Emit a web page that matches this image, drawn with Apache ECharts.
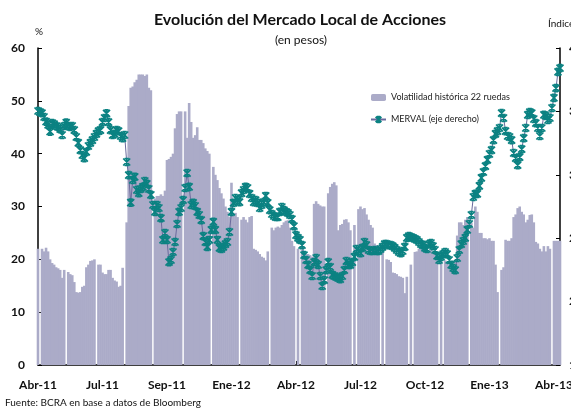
<!DOCTYPE html>
<html>
<head>
<meta charset="utf-8">
<script src="https://cdn.jsdelivr.net/npm/echarts@6/dist/echarts.min.js"></script>
<style>
html, body { margin: 0; padding: 0; background: #fff; }
#chart { width: 571px; height: 412px; }
</style>
</head>
<body>
<div id="chart"></div>
<script>
// etiquetas del eje x, una cada 32 ruedas
const tickLabels = ['Abr-11', 'Jul-11', 'Sep-11', 'Ene-12', 'Abr-12', 'Jul-12', 'Oct-12', 'Ene-13', 'Abr-13'];
const PASO = 32;

// volatilidad historica 22 ruedas (%), null = dia sin dato
const volatilidad = [
    22, null, 22, 21.5, 22.2, 21.5, 20, 19.3, 19, 18.5, 18.3, 18, 16.5, 18, null, 17.6,
    17.2, 17, 15.7, 13.8, 13.7, 13.8, 14.8, 15, 18.5, 19, 19.7, 19.8, 20, null, 19, 19,
    17.5, 17.2, 17.2, 18, 18, 16.5, 16, 15.8, 14.8, 15, 18.4, null, 27, 49, 52.5, 52.7,
    53.5, 54, 55, 55, 55, 54.7, 55, 52.5, 52, null, 31.5, 32, 32, 32.3, 32, 33,
    38.8, 39, 39.4, 40, 44.8, 47.5, 48, 48, null, 48, 43, 49.6, 46, 43, 43.5, 45,
    42.6, 42.6, 42, 41, 40.5, 40, null, 37.5, 36, 35, 33.5, 32.5, 31.5, 30, 29, 28,
    34.5, 28.5, 28.8, 28, null, 27.5, 28, 27.5, 27, 28, 28.2, 22, 21.8, 21.5, 21, 20.5,
    20.3, 19.8, 21.5, null, 26, 25.5, 26, 26.2, 26, 26.5, 27, 27.3, 27.4, 26, 23.5, 22.5,
    null, 22, null, 21.8, 21.5, 21, 21, 20.8, 20.5, 30.5, 31, 30.5, 30.2, 30, 30, null,
    32.5, 33.7, 34.3, 34.6, 34, 25.5, 26.5, 26.7, 27.5, 27.6, 27, 25.5, null, 26.5, null, 29.5,
    30, 29.5, 29.7, 28.5, 27.5, 26.5, 26, 23, 22.7, 22.5, null, 22.5, null, 20, 19.9, 19.5,
    17.5, 17.4, 17.2, 16.8, 16.7, 16.5, 13.6, 16.7, null, 19, null, 21.4, 21.5, 22, 22, 22,
    22, 22, 21.5, 21.8, 21.5, 21, 20.5, null, 21.5, null, 19.8, 19.5, 19, 18.5, 18, 19.5,
    24.5, 27, 27, 26.5, 27.5, 28, null, 27, 26, 30, 29, 25, 25, 24, 24, 23.8,
    24, 23.5, 23.5, 19, 13.8, null, 18, 18.5, 23.7, 23.5, 23.5, 24, 28, 28.5, 29.7, 30,
    29, 28.5, 27, 27.5, 28.4, 28.5, 27, 23.3, 23, 22, 21.5, 22.5, 21.5, 22.5, 22, null,
    23.5, 23.5, 23.5, 23.5
];

// indice MERVAL (eje derecho)
const merval = [
    3503, 3495, 3487, 3456, 3419, 3393, 3340, 3408, 3400, 3385, 3377, 3361, 3314, 3385, 3411, 3385,
    3377, 3385, 3353, 3298, 3251, 3195, 3156, 3132, 3180, 3227, 3251, 3274, 3298, 3322, 3345, 3353,
    3416, 3448, 3485, 3416, 3353, 3314, 3322, 3353, 3345, 3306, 3290, 3314, 3101, 2998, 2780, 2959,
    2983, 2880, 2856, 2888, 2904, 2951, 2928, 2888, 2841, 2762, 2707, 2762, 2738, 2659, 2486, 2541,
    2486, 2312, 2328, 2391, 2470, 2612, 2707, 2738, 2801, 2896, 3014, 2904, 2762, 2778, 2754, 2707,
    2683, 2643, 2517, 2470, 2431, 2486, 2565, 2628, 2565, 2486, 2423, 2415, 2431, 2454, 2470, 2549,
    2707, 2778, 2817, 2801, 2785, 2856, 2880, 2904, 2896, 2849, 2817, 2785, 2801, 2778, 2738, 2762,
    2785, 2833, 2778, 2722, 2691, 2675, 2667, 2667, 2707, 2746, 2722, 2707, 2699, 2683, 2651, 2596,
    2525, 2502, 2486, 2446, 2367, 2328, 2289, 2249, 2202, 2312, 2344, 2289, 2202, 2123, 2170, 2249,
    2312, 2273, 2210, 2202, 2194, 2186, 2178, 2202, 2249, 2320, 2289, 2289, 2312, 2352, 2415, 2399,
    2383, 2423, 2470, 2446, 2407, 2399, 2399, 2407, 2399, 2399, 2415, 2431, 2454, 2454, 2446, 2446,
    2438, 2423, 2407, 2391, 2383, 2399, 2431, 2502, 2517, 2509, 2502, 2494, 2486, 2470, 2454, 2446,
    2423, 2415, 2454, 2462, 2438, 2407, 2360, 2328, 2352, 2375, 2391, 2375, 2328, 2289, 2265, 2249,
    2344, 2407, 2454, 2478, 2502, 2565, 2612, 2683, 2825, 2849, 2849, 2912, 2975, 3022, 3069, 3117,
    3164, 3195, 3274, 3322, 3345, 3369, 3487, 3448, 3345, 3306, 3298, 3274, 3172, 3132, 3077, 3140,
    3203, 3290, 3369, 3472, 3495, 3487, 3440, 3408, 3369, 3306, 3369, 3472, 3464, 3432, 3448, 3527,
    3606, 3684, 3811, 3842
];

const FONT = 'Lato, "Open Sans", sans-serif';
const MARCA = 'path://M0,0L10,10M10,0L0,10M5,0L5,10M2,0L8,0M2,10L8,10';
const dias = volatilidad.map((v, i) => String(i));

const dom = document.getElementById('chart');
const myChart = echarts.init(dom, null, { renderer: 'canvas' });

const option = {
    animation: false,
    backgroundColor: '#fff',
    textStyle: { fontFamily: FONT, color: '#111' },
    title: [
        {
            text: 'Evolución del Mercado Local de Acciones',
            left: 295, top: 7, textAlign: 'center',
            textStyle: { fontFamily: FONT, fontSize: 16, fontWeight: 'bold', color: '#111' }
        },
        {
            text: '(en pesos)',
            left: 296, top: 29, textAlign: 'center',
            textStyle: { fontFamily: FONT, fontSize: 12, fontWeight: 'normal', color: '#111' }
        }
    ],
    graphic: [
        { type: 'text', left: 35, top: 27, style: { text: '%', font: '10px ' + FONT, fill: '#111' } },
        { type: 'text', left: 548, top: 19, style: { text: 'Índice', font: '10px ' + FONT, fill: '#111' } },
        { type: 'text', left: 5, top: 398, style: { text: 'Fuente: BCRA en base a datos de Bloomberg', font: '10px ' + FONT, fill: '#111' } }
    ],
    legend: {
        orient: 'vertical',
        left: 365, top: 88,
        itemWidth: 15, itemHeight: 7, itemGap: 13,
        textStyle: { fontFamily: FONT, fontSize: 9, color: '#222' },
        data: ['Volatilidad histórica 22 ruedas', 'MERVAL (eje derecho)']
    },
    grid: { left: 38, right: 11, top: 48, bottom: 47, outerBoundsMode: 'none', containLabel: false },
    xAxis: {
        type: 'category',
        data: dias,
        boundaryGap: false,
        axisLine: { lineStyle: { color: '#000', width: 1.5 } },
        axisTick: { inside: true, length: 4, interval: PASO - 1, lineStyle: { color: '#000' } },
        axisLabel: {
            interval: PASO - 1, margin: 14,
            fontFamily: FONT, fontSize: 12, fontWeight: 'bold', color: '#111',
            formatter: (v, i) => tickLabels[Math.round(i / PASO)] || ''
        },
        splitLine: { show: false }
    },
    yAxis: [
        {
            type: 'value', min: 0, max: 60, interval: 10,
            axisLine: { show: true, lineStyle: { color: '#000', width: 1.5 } },
            axisTick: { show: true, inside: true, length: 4, lineStyle: { color: '#000' } },
            axisLabel: { margin: 13, fontFamily: FONT, fontSize: 12, fontWeight: 'bold', color: '#111' },
            splitLine: { show: false }
        },
        {
            type: 'value', min: 1500, max: 4000, interval: 500, position: 'right',
            axisLine: { show: true, lineStyle: { color: '#000', width: 1.5 } },
            axisTick: { show: true, inside: true, length: 4, lineStyle: { color: '#000' } },
            axisLabel: {
                margin: 9, fontFamily: FONT, fontSize: 12, fontWeight: 'bold', color: '#111',
                formatter: v => String(v).replace(/(\d)(\d{3})$/, '$1.$2')
            },
            splitLine: { show: false }
        }
    ],
    series: [
        {
            name: 'Volatilidad histórica 22 ruedas',
            type: 'bar',
            data: volatilidad,
            barWidth: 2.6,
            itemStyle: { color: '#ababc8' },
            z: 1
        },
        {
            name: 'MERVAL (eje derecho)',
            type: 'line',
            yAxisIndex: 1,
            data: merval,
            showSymbol: false,
            symbol: MARCA,
            symbolSize: 7,
            itemStyle: { color: '#0b8282', borderColor: '#0b8282', borderWidth: 1.7 },
            lineStyle: { color: '#6a6a9c', width: 1 },
            z: 3
        },
        {
            // marcas de cada rueda
            name: 'MERVAL (eje derecho)',
            type: 'scatter',
            yAxisIndex: 1,
            data: merval,
            symbol: MARCA,
            symbolSize: 7,
            itemStyle: { color: '#0b8282', borderColor: '#0b8282', borderWidth: 1.7, opacity: 1 },
            z: 4
        }
    ]
};

if (option && typeof option === 'object') {
    myChart.setOption(option, true);
}
</script>
</body>
</html>
